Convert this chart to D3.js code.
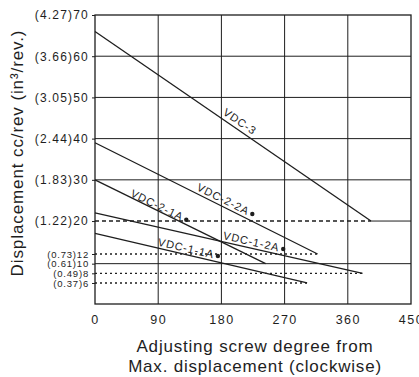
<!DOCTYPE html>
<html>
<head>
<meta charset="utf-8">
<script src="https://cdn.jsdelivr.net/npm/d3@7"></script>
<style>
  body { margin: 0; background: #fff; }
  svg { display: block; font-family: "Liberation Sans", Arial, sans-serif; }
</style>
</head>
<body>
<div id="chart"></div>
<script>
// series (degrees from max displacement vs cc/rev)
var seriesNames = ["VDC-3", "VDC-2-2A", "VDC-2-1A", "VDC-1-2A", "VDC-1-1A"];
var startValues = [66, 39, 30, 22, 17];
var endDegrees = [393, 317, 243, 381, 302];
var endValues = [20, 12, 10, 8, 6];
var markerDegrees = [null, 224, 130, 268, 175];
var markerValues = [null, 21.7, 20.3, 13.2, 11.6];

var xTicks = [0, 90, 180, 270, 360, 450];
var yTicks = [70, 60, 50, 40, 30, 20, 12, 10, 8, 6];
var yInches = ["4.27", "3.66", "3.05", "2.44", "1.83", "1.22", "0.73", "0.61", "0.49", "0.37"];
var gridValues = [60, 50, 40, 30, 10];

var W = 419, H = 377;
var margin = {left: 95, top: 15, right: 8, bottom: 73};
var guideDash = ["4,3", "2,3", null, "2,3", "2,3"];

var x = d3.scaleLinear().domain([0, 450]).range([margin.left, W - margin.right]);
// the printed chart spreads the low end a little, so the scale is piecewise
var plotH = H - margin.bottom - margin.top;
var y = d3.scaleLinear().domain([0, 6, 12, 70])
    .range([H - margin.bottom, H - margin.bottom - plotH * 0.0727,
            H - margin.bottom - plotH * 0.173, margin.top]);

var svg = d3.select("#chart").append("svg")
    .attr("width", W).attr("height", H);

var ink = "#1e1e1e";

// grid
var grid = svg.append("g").attr("stroke", ink).attr("stroke-width", 1);
grid.selectAll("line.v").data(xTicks.slice(1, -1)).enter().append("line")
    .attr("x1", d => x(d)).attr("x2", d => x(d))
    .attr("y1", y(0)).attr("y2", y(70));
grid.selectAll("line.h").data(gridValues).enter().append("line")
    .attr("x1", x(0)).attr("x2", x(450))
    .attr("y1", d => y(d)).attr("y2", d => y(d));
// solid part of the 20 line beyond VDC-3's end
grid.append("line")
    .attr("x1", x(endDegrees[0])).attr("x2", x(450))
    .attr("y1", y(endValues[0])).attr("y2", y(endValues[0]));

// dotted guides to each line end
seriesNames.forEach(function(n, i) {
    if (!guideDash[i]) return;
    svg.append("line")
        .attr("x1", x(0)).attr("x2", x(endDegrees[i]))
        .attr("y1", y(endValues[i])).attr("y2", y(endValues[i]))
        .attr("stroke", ink).attr("stroke-width", 1.4)
        .attr("stroke-dasharray", guideDash[i]);
});

// frame
svg.append("rect")
    .attr("x", x(0)).attr("y", y(70))
    .attr("width", x(450) - x(0)).attr("height", y(0) - y(70))
    .attr("fill", "none").attr("stroke", ink).attr("stroke-width", 1.3);

// axes
var yAxis = svg.append("g")
    .attr("transform", "translate(" + x(0) + ",0)")
    .call(d3.axisLeft(y).tickValues(yTicks).tickSize(3).tickPadding(3)
        .tickFormat((d, i) => "(" + yInches[i] + ")" + d));
yAxis.select(".domain").remove();
yAxis.selectAll("line").attr("stroke", ink);
yAxis.selectAll("text")
    .attr("fill", ink)
    .attr("font-family", "'Liberation Sans', Arial, sans-serif")
    .attr("font-size", d => d >= 20 ? 12 : 9.5)
    .attr("letter-spacing", d => d >= 20 ? 1.2 : 0.8);

var xAxis = svg.append("g")
    .attr("transform", "translate(0," + y(0) + ")")
    .call(d3.axisBottom(x).tickValues(xTicks).tickSize(0).tickPadding(11));
xAxis.select(".domain").remove();
xAxis.selectAll("text")
    .attr("fill", ink)
    .attr("font-family", "'Liberation Sans', Arial, sans-serif")
    .attr("font-size", 12.5)
    .attr("letter-spacing", 1.5);

// series lines
var line = d3.line().x(d => x(d[0])).y(d => y(d[1]));
seriesNames.forEach(function(n, i) {
    var pts = [[0, startValues[i]], [endDegrees[i], endValues[i]]];
    svg.append("path").datum(pts)
        .attr("d", line)
        .attr("fill", "none").attr("stroke", ink).attr("stroke-width", 1.3);

    var ang = Math.atan2(y(endValues[i]) - y(startValues[i]), x(endDegrees[i]) - x(0)) * 180 / Math.PI;
    var lbl = svg.append("text")
        .attr("font-size", 11).attr("letter-spacing", 0.9).attr("fill", ink)
        .text(n);
    if (markerDegrees[i] == null) {
        var t = 200;
        var px = x(0) + (x(endDegrees[i]) - x(0)) * t / endDegrees[i];
        var py = y(startValues[i]) + (y(endValues[i]) - y(startValues[i])) * t / endDegrees[i];
        lbl.attr("text-anchor", "middle")
            .attr("transform", "translate(" + px + "," + py + ") rotate(" + ang + ")")
            .attr("dy", -4);
    } else {
        var mx = x(markerDegrees[i]), my = y(markerValues[i]);
        lbl.attr("text-anchor", "end")
            .attr("transform", "translate(" + mx + "," + my + ") rotate(" + ang + ")")
            .attr("x", -4).attr("dy", 3.5);
        svg.append("circle")
            .attr("cx", mx).attr("cy", my).attr("r", 2.2).attr("fill", ink);
    }
});

// titles
svg.append("text")
    .attr("transform", "translate(23,153) rotate(-90)")
    .attr("text-anchor", "middle")
    .attr("font-size", 17).attr("letter-spacing", 0.9).attr("fill", ink)
    .text("Displacement cc/rev (in\u00b3/rev.)");

var xt = svg.append("text")
    .attr("text-anchor", "middle")
    .attr("font-size", 17).attr("letter-spacing", 0.8).attr("fill", ink);
xt.append("tspan").attr("x", 255).attr("y", 352).text("Adjusting screw degree from");
xt.append("tspan").attr("x", 255).attr("y", 372).text("Max. displacement (clockwise)");
</script>
</body>
</html>
